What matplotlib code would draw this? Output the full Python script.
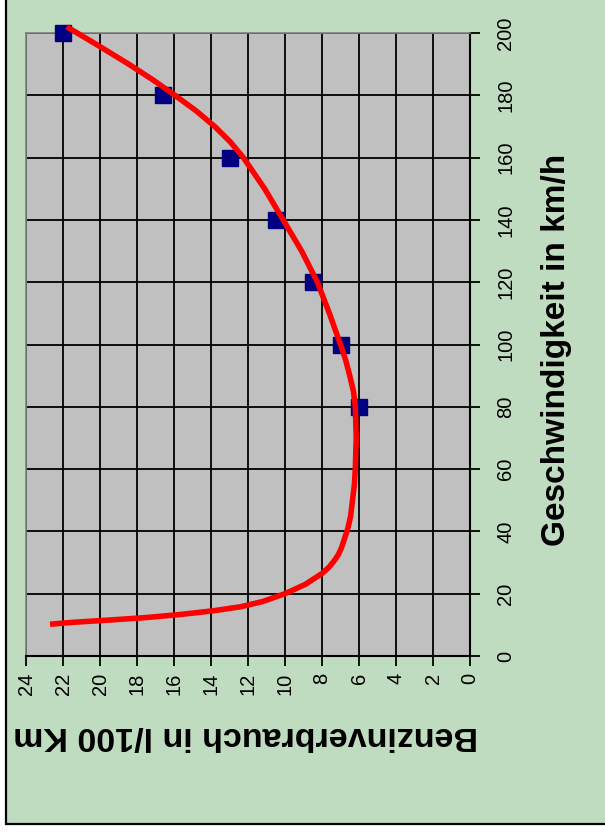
import matplotlib.pyplot as plt
from matplotlib.patches import Rectangle

# measured points: speed (km/h) -> consumption (l/100 km)
speed = [80, 100, 120, 140, 160, 180, 200]
consumption = [6.0, 7.0, 8.5, 10.5, 13.0, 16.6, 22.0]

# trend curve
curve_speed = [10.2, 10.8, 11.5, 12.3, 13.3, 14.5, 15.8, 17.5, 20, 23, 26.5, 28.5,
               30.5, 32.5, 35, 41, 45, 50, 55, 60, 70, 80, 85, 90, 95, 100, 110, 120,
               130, 140, 150, 160, 165, 170, 175, 180, 185, 190, 196, 202]
curve_consumption = [22.7, 21.5, 19.6, 17.6, 15.7, 13.9, 12.4, 11.2, 10.0, 8.9, 8.0, 7.62,
                     7.35, 7.12, 6.93, 6.6, 6.45, 6.35, 6.25, 6.2, 6.15, 6.2, 6.3, 6.5,
                     6.72, 7.0, 7.6, 8.25, 9.1, 10.1, 11.1, 12.25, 12.95, 13.8, 14.8,
                     15.95, 17.15, 18.45, 20.1, 21.8]

x_ticks = list(range(0, 25, 2))
y_ticks = list(range(0, 201, 20))

plt.rcParams['font.family'] = ['Liberation Sans', 'DejaVu Sans']

W, H = 605, 840
fig = plt.figure(figsize=(W / 100, H / 100), dpi=100, facecolor='white')

# green chart area, cut off at top and right
fig.add_artist(Rectangle((6 / W, 16 / H), 1.2, 1.2, transform=fig.transFigure,
                         facecolor='#C0DCC0', edgecolor='black', lw=1.6, zorder=0))

ax = fig.add_axes([26 / W, (H - 656) / H, 444 / W, 623 / H])
ax.set_facecolor('#C0C0C0')
ax.set_xlim(24, 0)
ax.set_ylim(0, 200)
ax.set_xticks(x_ticks)
ax.set_yticks(y_ticks)
ax.grid(True, color='black', lw=1.3)
ax.set_axisbelow(True)

ax.yaxis.tick_right()
ax.tick_params(axis='both', direction='out', length=7, width=1.3, color='black',
               labelsize=14.5, labelrotation=90)
ax.tick_params(axis='y', pad=12)
ax.tick_params(axis='x', pad=5)
for lab in ax.get_yticklabels():
    lab.set_va('center')

for side in ['top', 'left']:
    ax.spines[side].set_color('#808080')
    ax.spines[side].set_linewidth(1.2)
for side in ['right', 'bottom']:
    ax.spines[side].set_color('black')
    ax.spines[side].set_linewidth(1.5)

ax.plot(consumption, speed, 's', color='#000080', markersize=11, clip_on=False, zorder=3)
ax.plot(curve_consumption, curve_speed, '-', color='#FF0000', lw=4,
        solid_capstyle='butt', solid_joinstyle='round', clip_on=False, zorder=4)

fig.text(556 / W, 1 - 350 / H, 'Geschwindigkeit in km/h', rotation=90,
         ha='center', va='center', fontsize=24, fontweight='bold')
fig.text(246 / W, 1 - 735 / H, 'Benzinverbrauch in l/100 Km', rotation=180,
         ha='center', va='center', fontsize=24.5, fontweight='bold')

fig.savefig('out.png', dpi=100, facecolor=fig.get_facecolor())
